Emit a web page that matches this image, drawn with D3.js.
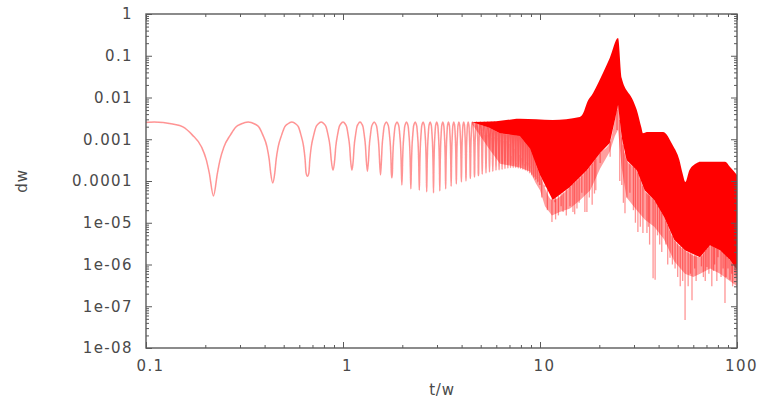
<!DOCTYPE html>
<html>
<head>
<meta charset="utf-8">
<script src="https://cdn.jsdelivr.net/npm/d3@7"></script>
<style>
  html, body { margin: 0; padding: 0; background: #fff; }
  svg { display: block; }
  .tick text { font-family: "DejaVu Sans", sans-serif; font-size: 15px; fill: #4a4a4a; letter-spacing: 1.4px; }
  .tick line { stroke: #5a5a5a; stroke-width: 1; }
  .axis-title { font-family: "DejaVu Sans", sans-serif; font-size: 15px; fill: #4a4a4a; letter-spacing: 0.8px; }
</style>
</head>
<body>
<svg id="chart" width="763" height="404"></svg>
<script>
// ---- axis ticks ----
const xTickValues = [0.1, 1, 10, 100];
const xTickLabels = ["0.1", "1", "10", "100"];
const yTickValues = [1, 0.1, 0.01, 0.001, 0.0001, 1e-5, 1e-6, 1e-7, 1e-8];
const yTickLabels = ["1", "0.1", "0.01", "0.001", "0.0001", "1e-05", "1e-06", "1e-07", "1e-08"];

// ---- resolved arches (t < 10): positions and depths of the zeros ----
const dipT = [0.22, 0.44, 0.66, 0.89, 1.11, 1.33, 1.55, 1.77, 1.99, 2.21,
              2.44, 2.66, 2.88, 3.10, 3.32, 3.54, 3.76, 3.99, 4.21, 4.43,
              4.65, 4.87, 5.09, 5.32, 5.54, 5.76, 5.98, 6.20, 6.42, 6.64,
              6.87, 7.09, 7.31, 7.53, 7.75, 7.97, 8.19, 8.42, 8.64, 8.86,
              9.08, 9.30, 9.52, 9.74, 9.97];
const dipV = [4.4e-5, 9e-5, 1.3e-4, 1.8e-4, 1.8e-4, 1.7e-4, 1.4e-4, 1.2e-4, 8e-5, 6.5e-5,
              6e-5, 5.5e-5, 5.2e-5, 5.8e-5, 6.5e-5, 7.5e-5, 8.5e-5, 9.5e-5, 1.0e-4, 1.15e-4,
              1.25e-4, 1.35e-4, 1.45e-4, 1.55e-4, 1.65e-4, 1.7e-4, 1.8e-4, 1.85e-4, 1.9e-4, 2.0e-4,
              2.05e-4, 2.1e-4, 2.1e-4, 2.1e-4, 2.05e-4, 2.0e-4, 1.9e-4, 1.8e-4, 1.7e-4, 1.55e-4,
              1.4e-4, 1.25e-4, 1.1e-4, 9.5e-5, 8e-5];
const archPeak = 0.0026;
// arch flank: distance from the zero (fraction of arch width) vs decades below the crest
const archOffset = [0.048, 0.08, 0.13, 0.22, 0.30, 0.38, 0.5];
const archDrop   = [1.22, 0.91, 0.60, 0.31, 0.12, 0.05, 0];

// ---- unresolved oscillation band ----
const bandT   = [4.5, 6.0, 7.91, 11.6, 15.9, 16.6, 17.3, 18.6, 20.9, 22.6, 24.9,
                 26.0, 29.6, 31.0, 32.7, 33.3, 34.9, 42.1, 47.2, 51.0, 52.8,
                 54.7, 57.3, 62.6, 65.0, 87.0, 92.0, 100];
const bandTop = [0.0026, 0.0027, 0.0031, 0.0029, 0.0034, 0.0043, 0.0074, 0.0128, 0.039, 0.088, 0.266,
                 0.029, 0.0087, 0.005, 0.0019, 0.0014, 0.0015, 0.0015, 7.2e-4, 3.2e-4, 1.6e-4,
                 9.5e-5, 1.8e-4, 2.7e-4, 2.9e-4, 2.9e-4, 2.2e-4, 1.4e-4];

const coreT   = [4.5, 5.5, 6.27, 7.91, 8.9, 10.0, 11.6, 14.2, 17.3, 20.2, 22.6,
                 24.0, 24.9, 26.0, 27.5, 31.0, 34.0, 38.0, 42.6, 48.0, 54.4,
                 64.9, 72.9, 82.0, 92.0, 100];
const coreLow = [0.0026, 0.0019, 1.4e-3, 1.2e-3, 6e-4, 1.4e-4, 3.5e-5, 7.2e-5, 1.8e-4, 4.7e-4, 8.1e-4,
                 2.9e-3, 6.6e-3, 1.1e-3, 3.2e-4, 1.8e-4, 6e-5, 3.5e-5, 1.4e-5, 3.9e-6, 2.2e-6,
                 1.5e-6, 2.9e-6, 2.2e-6, 1.3e-6, 7.4e-7];

const paleT   = [4.5, 5.5, 6.27, 7.91, 8.9, 9.5, 10.0, 10.6, 11.5, 12.6, 14.2, 16.0, 18.0, 20.2, 22.6,
                 24.0, 24.9, 26.0, 27.5, 31.0, 34.0, 38.0, 42.6, 48.0, 54.4,
                 60.0, 65.0, 73.0, 82.0, 92.0, 100];
const paleLow = [0.0024, 6e-4, 2.6e-4, 2.1e-4, 1.7e-4, 9e-5, 6e-5, 2.5e-5, 1.5e-5, 1.8e-5, 2.2e-5, 3.5e-5, 6e-5, 2e-4, 5e-4,
                 1.2e-3, 1.7e-3, 2e-4, 4e-5, 2e-5, 1.2e-5, 8e-6, 4e-6, 1.2e-6, 6e-7,
                 5e-7, 6e-7, 8e-7, 6e-7, 4e-7, 3e-7];

// deep isolated minima hanging below the band
const spikeT = [10.2, 10.6, 10.9, 11.5, 11.9, 12.0, 12.4, 12.8, 13.1, 13.6,
                14.2, 14.7, 15.0, 15.4, 15.8, 16.3, 16.9, 17.3, 17.8, 18.4,
                18.9, 19.2, 20.2, 22.7, 24.6, 25.4, 26.0, 26.5, 27.0, 27.6,
                28.6, 29.8, 30.5, 31.4, 32.3, 33.3, 34.9, 35.5, 36.0, 37.5,
                38.4, 39.5, 40.5, 41.5, 43.5, 44.5, 45.7, 47.0, 48.5, 50.0,
                51.5, 53.0, 54.5, 56.5, 58.0, 59.1, 61.0, 62.0, 64.9, 66.0,
                67.5, 69.0, 70.4, 72.0, 74.5, 76.0, 77.0, 79.0, 80.1, 83.0,
                85.0, 86.9, 88.0, 90.0, 92.1, 94.0, 95.0, 97.7, 99.0];
const spikeV = [4e-5, 7.2e-5, 2e-5, 1.04e-5, 3.1e-5, 1.2e-5, 1.5e-5, 2.5e-5, 1.8e-5, 1.5e-5,
                2.5e-5, 1.8e-5, 1.6e-5, 2.2e-5, 3e-5, 5.2e-5, 1.8e-5, 1.8e-5, 4e-5, 2.7e-5,
                5e-5, 6e-5, 2.7e-4, 3.8e-4, 1.67e-3, 1e-4, 8e-5, 3e-5, 1.7e-5, 4e-5,
                5.2e-5, 2e-5, 1e-5, 6e-6, 8e-6, 5.7e-6, 5.7e-6, 8e-6, 3e-6, 4.7e-7,
                4.3e-7, 5e-6, 3e-6, 2e-6, 3e-6, 1e-6, 1.45e-6, 1e-6, 8e-7, 5e-7,
                3e-7, 4e-7, 4.7e-8, 3e-7, 6e-7, 1.4e-7, 8e-7, 4e-7, 1.5e-6, 9e-7,
                5e-7, 4e-7, 8.7e-7, 6e-7, 3e-7, 7e-7, 1e-6, 4e-7, 1.5e-6, 5e-7,
                8e-7, 1.2e-7, 5e-7, 8e-7, 4.3e-7, 6e-7, 3e-7, 6.3e-7, 5e-7];

// ---- layout ----
const plot = { left: 146, right: 737, top: 14, bottom: 348 };
const svg = d3.select("#chart");
const x = d3.scaleLog().domain([0.1, 100]).range([plot.left, plot.right]);
const y = d3.scaleLog().domain([1e-8, 1]).range([plot.bottom, plot.top]);

const defs = svg.append("defs");
defs.append("clipPath").attr("id", "plotClip").append("rect")
  .attr("x", plot.left).attr("y", plot.top)
  .attr("width", plot.right - plot.left).attr("height", plot.bottom - plot.top);
defs.append("filter").attr("id", "soft")
  .append("feGaussianBlur").attr("stdDeviation", 0.5);

const data = svg.append("g").attr("clip-path", "url(#plotClip)")
  .append("g").attr("filter", "url(#soft)");

// resolved arches as a single curve
const archLine = [];
for (let i = 0; i < dipT.length; i++) {
  const a = i === 0 ? 0 : dipT[i - 1];
  const b = dipT[i];
  const w = b - a;
  const dropA = i === 0 ? Infinity : Math.log10(archPeak / dipV[i - 1]);
  const dropB = Math.log10(archPeak / dipV[i]);
  archOffset.forEach((d, k) => {
    if (archDrop[k] < dropA - 0.05) archLine.push([a + d * w, archPeak / Math.pow(10, archDrop[k])]);
  });
  for (let k = archOffset.length - 2; k >= 0; k--) {
    if (archDrop[k] < dropB - 0.05) archLine.push([b - archOffset[k] * w, archPeak / Math.pow(10, archDrop[k])]);
  }
  archLine.push([b, dipV[i]]);
}
const visibleArch = archLine.filter(p => p[0] > 0.05);

const line = d3.line().x(d => x(d[0])).y(d => y(d[1])).curve(d3.curveMonotoneX);
data.append("path")
  .attr("d", line(visibleArch))
  .attr("fill", "none")
  .attr("stroke", "#ff2a2a")
  .attr("stroke-opacity", 0.5)
  .attr("stroke-width", 1.5);

// closed band between an upper and a lower envelope
function bandPath(tUp, vUp, tLo, vLo) {
  const upper = tUp.map((t, i) => [x(t), y(vUp[i])]);
  const lower = tLo.map((t, i) => [x(t), y(vLo[i])]).reverse();
  return d3.line().curve(d3.curveMonotoneX)(upper) + "L" +
         d3.line()(lower).slice(1) + "Z";
}

// semi-dense region under the band
data.append("path")
  .attr("d", bandPath(coreT, coreLow, paleT, paleLow))
  .attr("fill", "#ff0000")
  .attr("fill-opacity", 0.38);

// deep minima
const coreAt = d3.scaleLog().domain(coreT).range(coreLow.map(Math.log10));
data.append("g").selectAll("line")
  .data(spikeT.map((t, i) => ({ t, v: spikeV[i] })))
  .join("line")
  .attr("x1", d => x(d.t)).attr("x2", d => x(d.t))
  .attr("y1", d => y(Math.pow(10, coreAt(d.t))))
  .attr("y2", d => y(d.v))
  .attr("stroke", "#ff0000")
  .attr("stroke-opacity", 0.42)
  .attr("stroke-width", 1.3);

// solid core of the band
data.append("path")
  .attr("d", bandPath(bandT, bandTop, coreT, coreLow))
  .attr("fill", "#ff0000");

// ---- axes ----
const minorX = x.ticks().filter(v => !xTickValues.some(m => Math.abs(m - v) < 1e-9 * m));
const minorY = y.ticks().filter(v => !yTickValues.some(m => Math.abs(m - v) < 1e-9 * m));
const strip = g => g.select(".domain").remove();

svg.append("g").attr("transform", `translate(0,${plot.bottom})`)
  .call(d3.axisBottom(x).tickValues(minorX).tickSizeInner(-3).tickSizeOuter(0).tickFormat(""))
  .call(strip);
svg.append("g").attr("transform", `translate(0,${plot.bottom})`)
  .call(d3.axisBottom(x).tickValues(xTickValues).tickSizeInner(-6).tickSizeOuter(0)
    .tickPadding(12).tickFormat((d, i) => xTickLabels[i]))
  .call(strip)
  .call(g => g.selectAll("text").attr("dx", 4));
svg.append("g").attr("transform", `translate(0,${plot.top})`)
  .call(d3.axisTop(x).tickValues(minorX).tickSizeInner(-3).tickSizeOuter(0).tickFormat(""))
  .call(strip);
svg.append("g").attr("transform", `translate(0,${plot.top})`)
  .call(d3.axisTop(x).tickValues(xTickValues).tickSizeInner(-6).tickSizeOuter(0).tickFormat(""))
  .call(strip);

svg.append("g").attr("transform", `translate(${plot.left},0)`)
  .call(d3.axisLeft(y).tickValues(minorY).tickSizeInner(-3).tickSizeOuter(0).tickFormat(""))
  .call(strip);
svg.append("g").attr("transform", `translate(${plot.left},0)`)
  .call(d3.axisLeft(y).tickValues(yTickValues).tickSizeInner(-6).tickSizeOuter(0)
    .tickPadding(13).tickFormat((d, i) => yTickLabels[i]))
  .call(strip);
svg.append("g").attr("transform", `translate(${plot.right},0)`)
  .call(d3.axisRight(y).tickValues(minorY).tickSizeInner(-3).tickSizeOuter(0).tickFormat(""))
  .call(strip);
svg.append("g").attr("transform", `translate(${plot.right},0)`)
  .call(d3.axisRight(y).tickValues(yTickValues).tickSizeInner(-6).tickSizeOuter(0).tickFormat(""))
  .call(strip);

// frame
svg.append("rect")
  .attr("x", plot.left).attr("y", plot.top)
  .attr("width", plot.right - plot.left).attr("height", plot.bottom - plot.top)
  .attr("fill", "none").attr("stroke", "#5a5a5a").attr("stroke-width", 1.4);

// axis titles
svg.append("text").attr("class", "axis-title")
  .attr("x", 442).attr("y", 395).attr("text-anchor", "middle").text("t/w");
svg.append("text").attr("class", "axis-title")
  .attr("transform", "translate(27,181) rotate(-90)")
  .attr("text-anchor", "middle").text("dw");
</script>
</body>
</html>
